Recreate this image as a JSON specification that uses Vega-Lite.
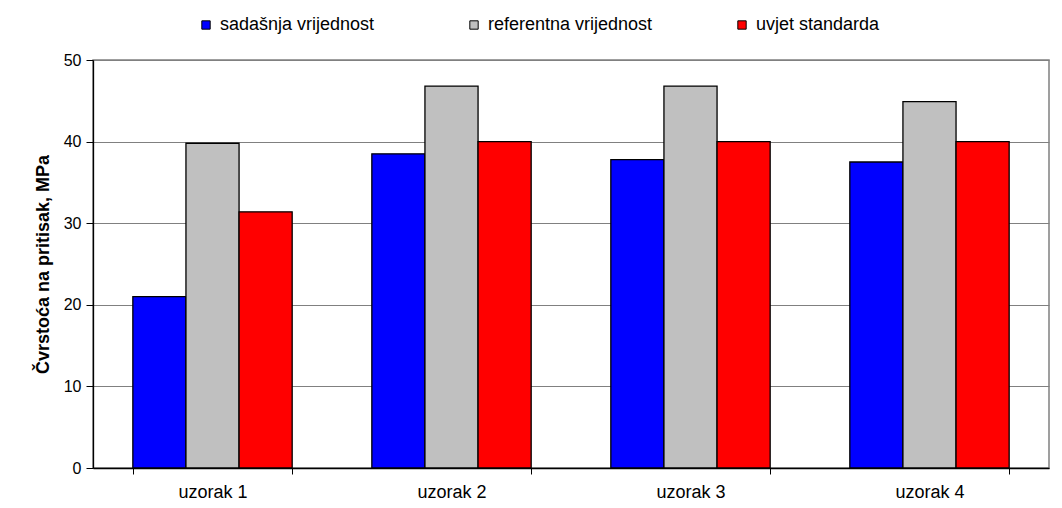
{
  "$schema": "https://vega.github.io/schema/vega-lite/v6.json",
  "autosize": "none",
  "width": 956,
  "height": 408,
  "padding": {"left": 93, "top": 60, "right": 13, "bottom": 40},
  "background": "white",
  "config": {
    "font": "Liberation Sans",
    "view": {"stroke": "#808080", "strokeWidth": 1.5}
  },
  "data": {
    "values": [
      {"uzorak": "uzorak 1", "serija": "sadašnja vrijednost", "vrijednost": 21.0},
      {"uzorak": "uzorak 1", "serija": "referentna vrijednost", "vrijednost": 39.8},
      {"uzorak": "uzorak 1", "serija": "uvjet standarda", "vrijednost": 31.4},
      {"uzorak": "uzorak 2", "serija": "sadašnja vrijednost", "vrijednost": 38.5},
      {"uzorak": "uzorak 2", "serija": "referentna vrijednost", "vrijednost": 46.8},
      {"uzorak": "uzorak 2", "serija": "uvjet standarda", "vrijednost": 40.0},
      {"uzorak": "uzorak 3", "serija": "sadašnja vrijednost", "vrijednost": 37.8},
      {"uzorak": "uzorak 3", "serija": "referentna vrijednost", "vrijednost": 46.8},
      {"uzorak": "uzorak 3", "serija": "uvjet standarda", "vrijednost": 40.0},
      {"uzorak": "uzorak 4", "serija": "sadašnja vrijednost", "vrijednost": 37.5},
      {"uzorak": "uzorak 4", "serija": "referentna vrijednost", "vrijednost": 44.9},
      {"uzorak": "uzorak 4", "serija": "uvjet standarda", "vrijednost": 40.0}
    ]
  },
  "mark": {"type": "bar", "stroke": "black", "strokeWidth": 1.3},
  "encoding": {
    "x": {
      "field": "uzorak",
      "type": "nominal",
      "scale": {"paddingInner": 0.3333, "paddingOuter": 0.1667},
      "axis": {
        "title": null,
        "labelAngle": 0,
        "labelFontSize": 18,
        "labelColor": "black",
        "labelPadding": 9,
        "tickBand": "extent",
        "tickSize": 6,
        "tickColor": "black",
        "domainColor": "black",
        "domainWidth": 1.3
      }
    },
    "xOffset": {
      "field": "serija",
      "type": "nominal",
      "sort": ["sadašnja vrijednost", "referentna vrijednost", "uvjet standarda"]
    },
    "y": {
      "field": "vrijednost",
      "type": "quantitative",
      "scale": {"domain": [0, 50]},
      "axis": {
        "title": "Čvrstoća na pritisak, MPa",
        "titleFontSize": 18,
        "titleFontWeight": "bold",
        "titleColor": "black",
        "titlePadding": 11,
        "values": [0, 10, 20, 30, 40, 50],
        "labelFontSize": 16,
        "labelColor": "black",
        "labelPadding": 5,
        "tickSize": 7,
        "tickColor": "black",
        "domainColor": "black",
        "domainWidth": 1.3,
        "gridColor": "#808080",
        "gridWidth": 1
      }
    },
    "color": {
      "field": "serija",
      "type": "nominal",
      "sort": ["sadašnja vrijednost", "referentna vrijednost", "uvjet standarda"],
      "scale": {
        "domain": ["sadašnja vrijednost", "referentna vrijednost", "uvjet standarda"],
        "range": ["#0000FF", "#C0C0C0", "#FF0000"]
      },
      "legend": {
        "title": null,
        "orient": "none",
        "direction": "horizontal",
        "legendX": 104,
        "legendY": -44,
        "symbolType": "square",
        "symbolSize": 70,
        "symbolStrokeColor": "black",
        "symbolStrokeWidth": 1,
        "labelFontSize": 18,
        "labelLimit": 400,
        "labelColor": "black",
        "labelOffset": 5,
        "gridAlign": "all",
        "columnPadding": 80
      }
    }
  }
}
